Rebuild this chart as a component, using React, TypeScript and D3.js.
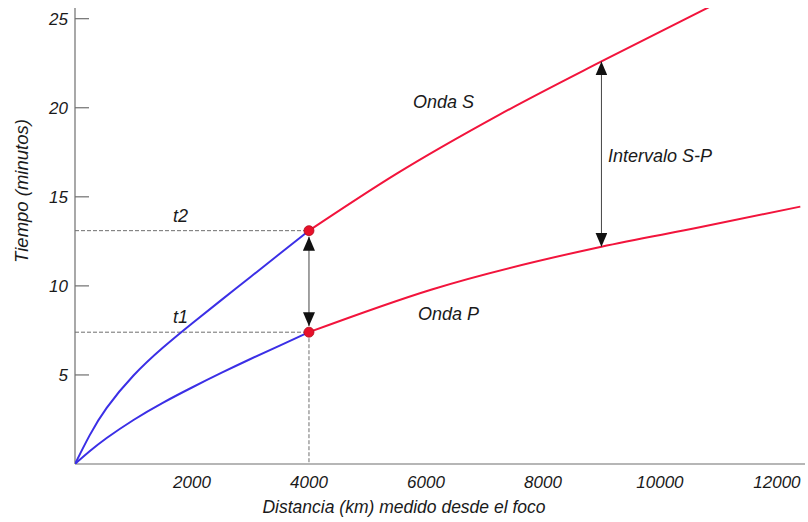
import * as d3 from "d3";

// blue segments (up to 4000 km) and red segments (beyond)
const sBlueDist = [0, 250, 500, 1000, 1500, 2000, 2500, 3000, 3500, 4000];
const sBlueTime = [0, 1.65, 3.05, 5.05, 6.55, 7.9, 9.2, 10.5, 11.8, 13.1];
const pBlueDist = [0, 250, 500, 1000, 1500, 2000, 2500, 3000, 3500, 4000];
const pBlueTime = [0, 0.72, 1.38, 2.5, 3.45, 4.3, 5.12, 5.9, 6.65, 7.4];
const sRedDist = [4000, 5500, 7250, 9000, 10900];
const sRedTime = [13.1, 16.3, 19.6, 22.6, 25.75];
const pRedDist = [4000, 6100, 9000, 10700, 12400];
const pRedTime = [7.4, 9.8, 12.2, 13.3, 14.45];

const xTicks = [2000, 4000, 6000, 8000, 10000, 12000];
const yTicks = [5, 10, 15, 20, 25];

const markDist = 4000;
const t1 = 7.4;
const t2 = 13.1;
const intervalDist = 9000;
const intervalS = 22.6;
const intervalP = 12.2;

const W = 808;
const H = 522;
const FONT = "'Liberation Sans', Arial, sans-serif";

export default function App() {
  const x = d3.scaleLinear().domain([0, 12480]).range([75, 805]);
  const y = d3.scaleLinear().domain([0, 25.6]).range([464, 8]);

  const zip = (a: number[], b: number[]) => a.map((d, i) => [d, b[i]] as [number, number]);
  const smooth = d3
    .line<[number, number]>()
    .x((d) => x(d[0]))
    .y((d) => y(d[1]))
    .curve(d3.curveBasis);
  const line = smooth.curve(d3.curveMonotoneX);
  const blueLine = d3
    .line<[number, number]>()
    .x((d) => x(d[0]))
    .y((d) => y(d[1]))
    .curve(d3.curveBasis);

  const blue = "#3b2fe6";
  const red = "#f2143c";
  const grey = "#6f6f6f";
  const txt = { fontFamily: FONT, fontStyle: "italic", fontSize: 17, fill: "#1a1a1a" } as const;
  const lbl = { ...txt, fontSize: 18 } as const;

  return (
    <svg
      width={W}
      height={H}
      style={{ position: "absolute", left: 0, top: 0, background: "#fff" }}
    >
      <defs>
        <clipPath id="plot">
          <rect x={x(0)} y={y(25.6)} width={x(12480) - x(0)} height={y(0) - y(25.6)} />
        </clipPath>
        <marker
          id="head"
          markerUnits="userSpaceOnUse"
          viewBox="0 0 14 12"
          refX={14}
          refY={6}
          markerWidth={14}
          markerHeight={12}
          orient="auto-start-reverse"
        >
          <path d="M0,0 L14,6 L0,12 Z" fill="#111" />
        </marker>
      </defs>

      {/* axes */}
      <line x1={x(0)} x2={x(0)} y1={y(25.6)} y2={y(0)} stroke={grey} strokeWidth={1.2} />
      <line x1={x(0)} x2={x(12480)} y1={y(0)} y2={y(0)} stroke={grey} strokeWidth={1.2} />
      {yTicks.map((t) => (
        <g key={t}>
          <line x1={x(0)} x2={x(0) + 14} y1={y(t)} y2={y(t)} stroke={grey} strokeWidth={1.2} />
          <text x={68} y={y(t)} dy="0.36em" textAnchor="end" {...txt}>
            {t}
          </text>
        </g>
      ))}
      {xTicks.map((t) => (
        <text key={t} x={x(t)} y={488} textAnchor="middle" {...txt}>
          {t}
        </text>
      ))}
      <text x={404} y={513} textAnchor="middle" {...txt} fontSize={17.5}>
        Distancia (km) medido desde el foco
      </text>
      <text transform={`translate(28,191) rotate(-90)`} textAnchor="middle" {...txt} fontSize={18.5}>
        Tiempo (minutos)
      </text>

      {/* reference dashed lines */}
      <g stroke={grey} strokeWidth={1} strokeDasharray="4,2" fill="none">
        <line x1={x(0)} x2={x(markDist)} y1={y(t2)} y2={y(t2)} />
        <line x1={x(0)} x2={x(markDist)} y1={y(t1)} y2={y(t1)} />
        <line x1={x(markDist)} x2={x(markDist)} y1={y(t1)} y2={y(0)} />
      </g>

      {/* wave curves */}
      <g fill="none" strokeWidth={2} clipPath="url(#plot)">
        <path d={blueLine(zip(sBlueDist, sBlueTime)) ?? ""} stroke={blue} />
        <path d={blueLine(zip(pBlueDist, pBlueTime)) ?? ""} stroke={blue} />
        <path d={line(zip(sRedDist, sRedTime)) ?? ""} stroke={red} />
        <path d={line(zip(pRedDist, pRedTime)) ?? ""} stroke={red} />
      </g>

      {/* double arrows */}
      <g stroke="#444" strokeWidth={1}>
        <line
          x1={x(markDist)}
          x2={x(markDist)}
          y1={y(t2) + 6}
          y2={y(t1) - 6}
          markerStart="url(#head)"
          markerEnd="url(#head)"
        />
        <line
          x1={x(intervalDist)}
          x2={x(intervalDist)}
          y1={y(intervalS)}
          y2={y(intervalP)}
          markerStart="url(#head)"
          markerEnd="url(#head)"
        />
      </g>

      {/* arrival points */}
      {[t1, t2].map((t) => (
        <circle key={t} cx={x(markDist)} cy={y(t)} r={5} fill="#e8102a" stroke="#b0101e" strokeWidth={0.8} />
      ))}

      {/* labels */}
      <text x={173} y={222} {...lbl}>t2</text>
      <text x={173} y={323} {...lbl}>t1</text>
      <text x={413} y={108} {...lbl}>Onda S</text>
      <text x={418} y={320} {...lbl}>Onda P</text>
      <text x={608} y={162} {...lbl}>Intervalo S-P</text>
    </svg>
  );
}
